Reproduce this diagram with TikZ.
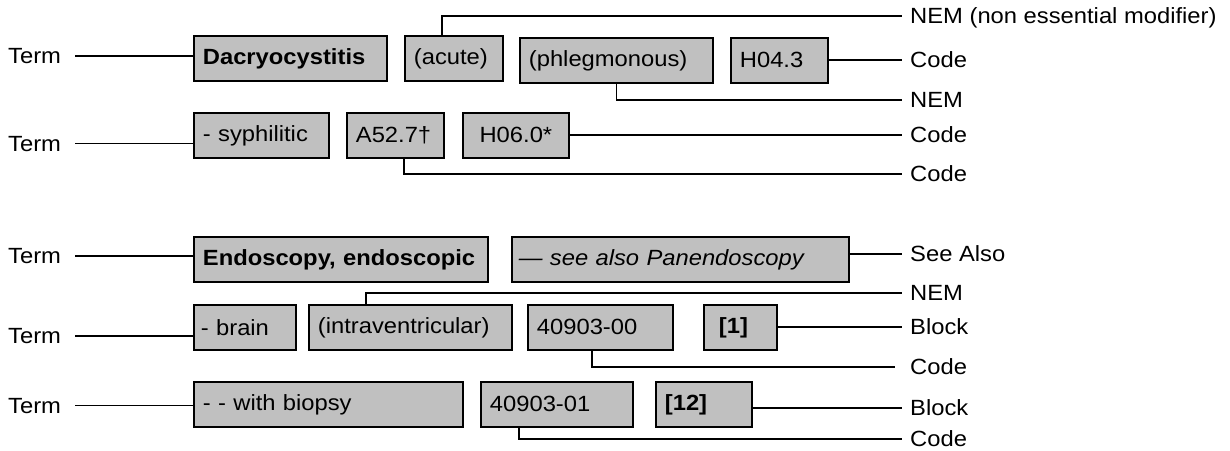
\documentclass[tikz,border=0pt]{standalone}
\usepackage{fontspec}
\setmainfont{Liberation Sans}[FakeStretch=1.08]
\usepackage{tikz}

\definecolor{boxgray}{RGB}{192,192,192}

\tikzset{
    entry/.style={draw,line width=1.8pt,fill=boxgray,anchor=north west,
        minimum height=45pt,inner xsep=9pt,inner ysep=0pt,align=left},
    term/.style={anchor=west,inner sep=0pt,text height=15.5pt,text depth=0pt},
    tag/.style={anchor=west,inner xsep=8pt,inner ysep=0pt,text height=15.5pt,text depth=0pt},
    link/.style={line width=1.3pt},
    lead/.style={line width=1.3pt,shorten <=14pt}
}

\begin{document}
\begin{tikzpicture}[x=1pt,y={(0pt,-1pt)},font=\fontsize{22pt}{26pt}\selectfont]
        \useasboundingbox (0,0) rectangle (1230,450);

        % Entries
        \node [entry,text width=175pt] (dacr)   at (193,35)  {\textbf{Dacryocystitis}};
        \node [entry,text width=80pt]  (acute)  at (404,35)  {(acute)};
        \node [entry,text width=175pt] (phleg)  at (519,37)  {(phlegmonous)};
        \node [entry,text width=79pt]  (hfour)  at (730,37)  {H04.3};
        \node [entry,text width=117pt] (syph)   at (193,112) {- syphilitic};
        \node [entry,text width=79pt]  (adag)   at (346,112) {A52.7†};
        \node [entry,text width=88pt,align=center] (hsix) at (462,112) {H06.0*};

        \node [entry,text width=276pt] (endo)   at (193,236) {\textbf{Endoscopy, endoscopic}};
        \node [entry,text width=323pt,inner xsep=7pt] (seealso) at (511,236) {\textit{— see also Panendoscopy}};
        \node [entry,text width=88pt,inner xsep=7pt] (brain) at (193,304) {- brain};
        \node [entry,text width=185pt] (intra)  at (308,304) {(intraventricular)};
        \node [entry,text width=127pt] (czero)  at (527,304) {40903-00};
        \node [entry,text width=43pt,inner xsep=15pt] (blkone) at (703,304) {\textbf{[1]}};
        \node [entry,text width=251pt] (biopsy) at (193,381) {- - with biopsy};
        \node [entry,text width=134pt] (cone)   at (480,381) {40903-01};
        \node [entry,text width=78pt]  (blktwelve) at (655,381) {\textbf{[12]}};

        % Terms
        \node [term] (tA) at (8,56)    {Term};
        \node [term] (tB) at (8,143.5) {Term};
        \node [term] (tC) at (8,256)   {Term};
        \node [term] (tD) at (8,336)   {Term};
        \node [term] (tE) at (8,405.5) {Term};

        % Labels
        \node [tag] (nemA)   at (902,16)  {NEM (non essential modifier)};
        \node [tag] (codeA)  at (902,60)  {Code};
        \node [tag] (nemB)   at (902,100) {NEM};
        \node [tag] (codeB)  at (902,135) {Code};
        \node [tag] (codeC)  at (902,174) {Code};
        \node [tag] (see)    at (902,254) {See Also};
        \node [tag] (nemC)   at (902,293) {NEM};
        \node [tag] (blockA) at (902,327) {Block};
        \node [tag] (codeD)  at (902,367) {Code};
        \node [tag] (blockB) at (902,408) {Block};
        \node [tag] (codeE)  at (902,439) {Code};

        % Term leads
        \draw [lead] (tA.east) -- (tA.east -| dacr.west);
        \draw [lead] (tB.east) -- (tB.east -| syph.west);
        \draw [lead] (tC.east) -- (tC.east -| endo.west);
        \draw [lead] (tD.east) -- (tD.east -| brain.west);
        \draw [lead] (tE.east) -- (tE.east -| biopsy.west);

        % Connectors
        \draw [link] ([xshift=38pt]acute.north west) |- (nemA.west);
        \draw [link] (hfour.east |- codeA) -- (codeA.west);
        \draw [link] (phleg.south) |- (nemB.west);
        \draw [link] (hsix.east |- codeB) -- (codeB.west);
        \draw [link] ([xshift=58pt]adag.south west) |- (codeC.west);
        \draw [link] (seealso.east |- see) -- (see.west);
        \draw [link] ([xshift=58pt]intra.north west) |- (nemC.west);
        \draw [link] (blkone.east |- blockA) -- (blockA.west);
        \draw [link,shorten >=7pt] ([xshift=65pt]czero.south west) |- (codeD.west);
        \draw [link] (blktwelve.east |- blockB) -- (blockB.west);
        \draw [link] ([xshift=39pt]cone.south west) |- (codeE.west);
    \end{tikzpicture}
\end{document}
